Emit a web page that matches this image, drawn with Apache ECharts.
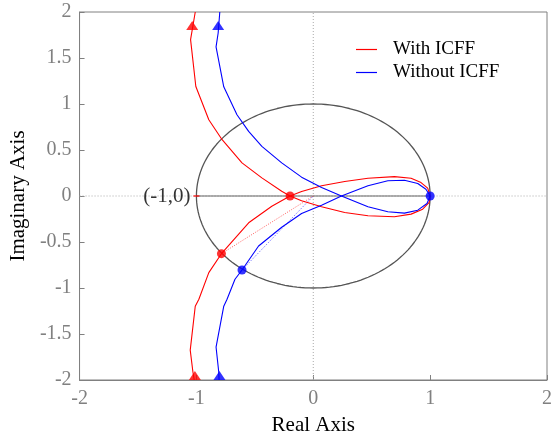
<!DOCTYPE html>
<html>
<head>
<meta charset="utf-8">
<script src="https://cdn.jsdelivr.net/npm/echarts@6/dist/echarts.min.js"></script>
<style>
  html, body { margin: 0; padding: 0; background: #fff; }
  #main { width: 560px; height: 441px; }
</style>
</head>
<body>
<div id="main"></div>
<script>
// Nyquist curves, [real, imag]
const withIcffA = [
  [-1.01, 2.0], [-1.05, 1.70], [-1.005, 1.19], [-0.894, 0.829], [-0.78, 0.612],
  [-0.61, 0.36], [-0.44, 0.197], [-0.27, 0.052], [-0.199, 0], [-0.10, -0.052],
  [0.071, -0.117], [0.269, -0.179], [0.468, -0.215], [0.694, -0.225], [0.837, -0.197],
  [0.936, -0.143], [0.992, -0.07], [1.0, 0]
];
const withIcffB = [
  [1.0, 0], [0.979, 0.085], [0.922, 0.146], [0.837, 0.193], [0.694, 0.211],
  [0.468, 0.193], [0.269, 0.157], [0.071, 0.111], [-0.10, 0.049], [-0.199, 0],
  [-0.355, -0.111], [-0.553, -0.291], [-0.786, -0.627], [-0.894, -0.833], [-0.979, -1.122],
  [-1.01, -1.198], [-1.053, -1.675], [-1.03, -1.913], [-1.019, -2.0]
];
const withoutIcffA = [
  [-0.80, 2.0], [-0.814, 1.772], [-0.832, 1.621], [-0.766, 1.187], [-0.653, 0.883],
  [-0.553, 0.702], [-0.44, 0.54], [-0.27, 0.36], [-0.10, 0.205], [0.071, 0.092],
  [0.241, 0], [0.468, -0.117], [0.638, -0.171], [0.78, -0.186], [0.894, -0.154],
  [0.973, -0.081], [1.0, 0]
];
const withoutIcffB = [
  [1.0, 0], [0.964, 0.074], [0.894, 0.136], [0.78, 0.171], [0.638, 0.165],
  [0.468, 0.111], [0.241, 0], [0.071, -0.10], [-0.10, -0.19], [-0.27, -0.34],
  [-0.468, -0.544], [-0.61, -0.804], [-0.67, -0.905], [-0.738, -1.122], [-0.766, -1.198],
  [-0.832, -1.642], [-0.809, -1.913], [-0.806, -2.0]
];
// marked points
const redDots = [[-0.199, 0], [-0.786, -0.627]];
const blueDots = [[1.0, 0], [-0.61, -0.804]];
const redArrows = [[-1.036, 1.854], [-1.013, -1.951]];
const blueArrows = [[-0.814, 1.854], [-0.803, -1.951]];
// axis ticks
const xTicks = [-2, -1, 0, 1, 2];
const yTicks = [-2, -1.5, -1, -0.5, 0, 0.5, 1, 1.5, 2];

const RED = '#ff0000';
const BLUE = '#0000ff';
const GRAY = '#808080';
const FONT = 'Liberation Serif';

// unit circle reference
const circle = [];
for (let i = 0; i <= 180; i++) {
  const t = i / 180 * 2 * Math.PI;
  circle.push([Math.cos(t), Math.sin(t)]);
}

const chart = echarts.init(document.getElementById('main'), null, { renderer: 'canvas' });

const curve = (name, data, color) => ({
  name, type: 'line', data, symbol: 'none', smooth: false, z: 5,
  lineStyle: { color, width: 1.1 }, itemStyle: { color }
});

chart.setOption({
  animation: false,
  backgroundColor: '#fff',
  grid: { left: 77, top: 12, width: 470, height: 369, show: true, borderColor: GRAY, borderWidth: 1 },
  legend: {
    data: [
      { name: 'With ICFF', icon: 'rect' },
      { name: 'Without ICFF', icon: 'rect' }
    ],
    orient: 'vertical', left: 351, top: 35, itemGap: 4,
    itemWidth: 21, itemHeight: 1.2,
    textStyle: { fontFamily: FONT, fontSize: 19, color: '#000', padding: [0, 0, 0, 11] }
  },
  xAxis: {
    type: 'value', min: -2, max: 2, interval: 1,
    name: 'Real Axis', nameLocation: 'middle', nameGap: 35,
    nameTextStyle: { fontFamily: FONT, fontSize: 21, color: '#000' },
    axisLine: { onZero: false, lineStyle: { color: GRAY } },
    axisTick: { inside: true, length: 5, lineStyle: { color: GRAY } },
    axisLabel: { fontFamily: FONT, fontSize: 20, color: GRAY, margin: 9,
      formatter: v => xTicks.includes(v) ? String(v) : '' },
    splitLine: { show: false }
  },
  yAxis: {
    type: 'value', min: -2, max: 2, interval: 0.5,
    name: 'Imaginary Axis', nameLocation: 'middle', nameGap: 39,
    nameTextStyle: { fontFamily: FONT, fontSize: 21, color: '#000' },
    axisLine: { onZero: false, lineStyle: { color: GRAY } },
    axisTick: { inside: true, length: 5, lineStyle: { color: GRAY } },
    axisLabel: { fontFamily: FONT, fontSize: 20, color: GRAY, margin: 8,
      formatter: v => yTicks.includes(v) ? String(v) : '' },
    splitLine: { show: false }
  },
  series: [
    { name: 'zeroH', type: 'line', data: [[-2, 0], [2, 0]], symbol: 'none', silent: true, z: 1,
      lineStyle: { color: '#aaaaaa', width: 1, type: [1, 2] } },
    { name: 'zeroV', type: 'line', data: [[0, -2], [0, 2]], symbol: 'none', silent: true, z: 1,
      lineStyle: { color: '#aaaaaa', width: 1, type: [1, 2] } },
    { name: 'realSeg', type: 'line', data: [[-1, 0], [1, 0]], symbol: 'none', silent: true, z: 2,
      lineStyle: { color: '#666666', width: 1.2 } },
    { name: 'circle', type: 'line', data: circle, symbol: 'none', silent: true, z: 2,
      lineStyle: { color: '#555555', width: 1.3 } },
    { name: 'critical', type: 'scatter', data: [[-1, 0]], symbol: 'rect', symbolSize: [6, 1.5], z: 3,
      itemStyle: { color: RED },
      label: { show: true, position: 'left', distance: 3, formatter: '(-1,0)',
        fontFamily: FONT, fontSize: 21, color: '#000' } },
    { name: 'redRay', type: 'line', data: [redDots[1], [0, 0]], symbol: 'none', z: 4,
      lineStyle: { color: RED, width: 0.8, type: [1, 1.5], opacity: 0.8 } },
    { name: 'blueRay', type: 'line', data: [blueDots[1], [0, 0]], symbol: 'none', z: 4,
      lineStyle: { color: BLUE, width: 0.8, type: [1, 1.5], opacity: 0.8 } },
    curve('With ICFF', withIcffA, RED),
    curve('With ICFF', withIcffB, RED),
    curve('Without ICFF', withoutIcffA, BLUE),
    curve('Without ICFF', withoutIcffB, BLUE),
    { name: 'redArrows', type: 'scatter', data: redArrows, symbol: 'triangle', symbolSize: [12, 9], z: 6,
      itemStyle: { color: RED } },
    { name: 'blueArrows', type: 'scatter', data: blueArrows, symbol: 'triangle', symbolSize: [12, 9], z: 6,
      itemStyle: { color: BLUE } },
    { name: 'redDots', type: 'scatter', data: redDots, symbolSize: 9, z: 7, itemStyle: { color: RED } },
    { name: 'blueDots', type: 'scatter', data: blueDots, symbolSize: 9, z: 8, itemStyle: { color: BLUE } }
  ]
});
</script>
</body>
</html>
